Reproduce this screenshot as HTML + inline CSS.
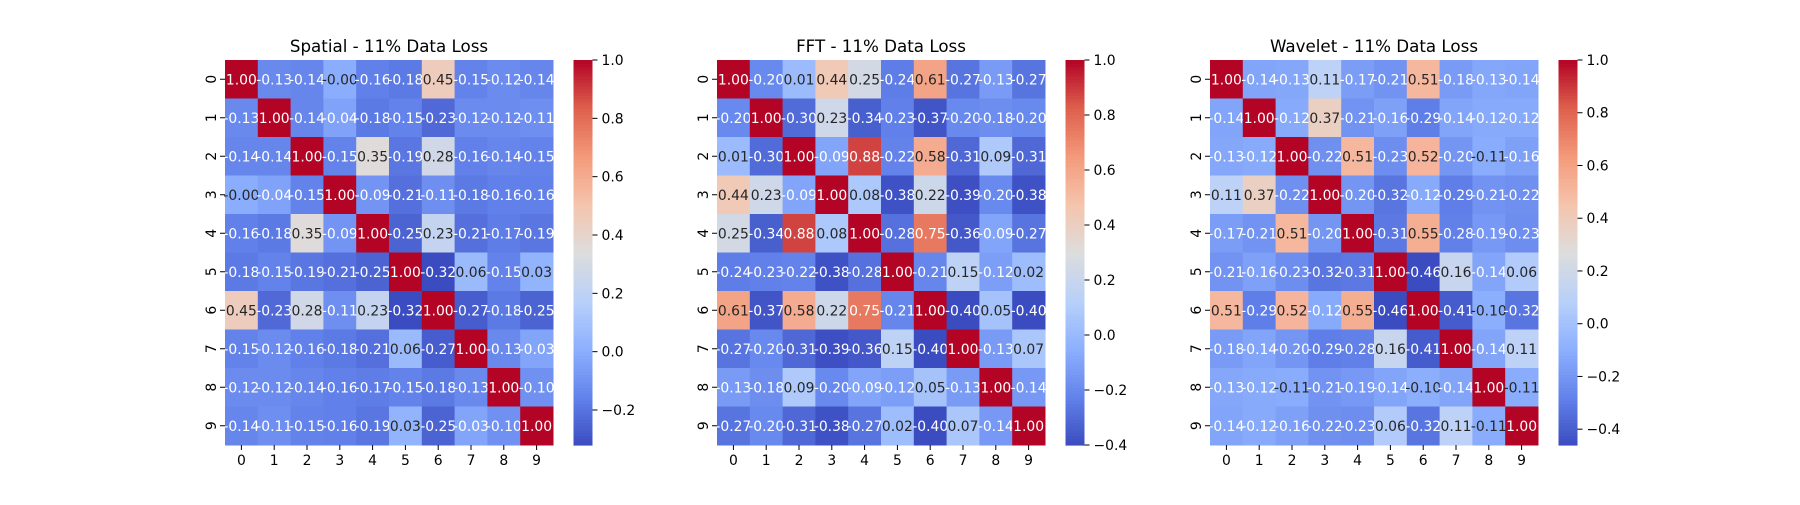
<!DOCTYPE html>
<html><head><meta charset="utf-8"><style>
body{margin:0;background:#fff;width:1800px;height:500px;overflow:hidden}
svg{font-family:"DejaVu Sans","Liberation Sans",sans-serif}
</style></head><body>
<svg id="fig" width="1800" height="500" xmlns="http://www.w3.org/2000/svg"></svg>
<script>
const labels = ['0','1','2','3','4','5','6','7','8','9'];
const titles = ['Spatial - 11% Data Loss','FFT - 11% Data Loss','Wavelet - 11% Data Loss'];
const spatial = [
[1.00,-0.13,-0.14,-0.00,-0.16,-0.18,0.45,-0.15,-0.12,-0.14],
[-0.13,1.00,-0.14,-0.04,-0.18,-0.15,-0.23,-0.12,-0.12,-0.11],
[-0.14,-0.14,1.00,-0.15,0.35,-0.19,0.28,-0.16,-0.14,-0.15],
[-0.00,-0.04,-0.15,1.00,-0.09,-0.21,-0.11,-0.18,-0.16,-0.16],
[-0.16,-0.18,0.35,-0.09,1.00,-0.25,0.23,-0.21,-0.17,-0.19],
[-0.18,-0.15,-0.19,-0.21,-0.25,1.00,-0.32,0.06,-0.15,0.03],
[0.45,-0.23,0.28,-0.11,0.23,-0.32,1.00,-0.27,-0.18,-0.25],
[-0.15,-0.12,-0.16,-0.18,-0.21,0.06,-0.27,1.00,-0.13,-0.03],
[-0.12,-0.12,-0.14,-0.16,-0.17,-0.15,-0.18,-0.13,1.00,-0.10],
[-0.14,-0.11,-0.15,-0.16,-0.19,0.03,-0.25,-0.03,-0.10,1.00]];
const fft = [
[1.00,-0.20,0.01,0.44,0.25,-0.24,0.61,-0.27,-0.13,-0.27],
[-0.20,1.00,-0.30,0.23,-0.34,-0.23,-0.37,-0.20,-0.18,-0.20],
[0.01,-0.30,1.00,-0.09,0.88,-0.22,0.58,-0.31,0.09,-0.31],
[0.44,0.23,-0.09,1.00,0.08,-0.38,0.22,-0.39,-0.20,-0.38],
[0.25,-0.34,0.88,0.08,1.00,-0.28,0.75,-0.36,-0.09,-0.27],
[-0.24,-0.23,-0.22,-0.38,-0.28,1.00,-0.21,0.15,-0.12,0.02],
[0.61,-0.37,0.58,0.22,0.75,-0.21,1.00,-0.40,0.05,-0.40],
[-0.27,-0.20,-0.31,-0.39,-0.36,0.15,-0.40,1.00,-0.13,0.07],
[-0.13,-0.18,0.09,-0.20,-0.09,-0.12,0.05,-0.13,1.00,-0.14],
[-0.27,-0.20,-0.31,-0.38,-0.27,0.02,-0.40,0.07,-0.14,1.00]];
const wavelet = [
[1.00,-0.14,-0.13,0.11,-0.17,-0.21,0.51,-0.18,-0.13,-0.14],
[-0.14,1.00,-0.12,0.37,-0.21,-0.16,-0.29,-0.14,-0.12,-0.12],
[-0.13,-0.12,1.00,-0.22,0.51,-0.23,0.52,-0.20,-0.11,-0.16],
[0.11,0.37,-0.22,1.00,-0.20,-0.32,-0.12,-0.29,-0.21,-0.22],
[-0.17,-0.21,0.51,-0.20,1.00,-0.31,0.55,-0.28,-0.19,-0.23],
[-0.21,-0.16,-0.23,-0.32,-0.31,1.00,-0.46,0.16,-0.14,0.06],
[0.51,-0.29,0.52,-0.12,0.55,-0.46,1.00,-0.41,-0.10,-0.32],
[-0.18,-0.14,-0.20,-0.29,-0.28,0.16,-0.41,1.00,-0.14,0.11],
[-0.13,-0.12,-0.11,-0.21,-0.19,-0.14,-0.10,-0.14,1.00,-0.11],
[-0.14,-0.12,-0.16,-0.22,-0.23,0.06,-0.32,0.11,-0.11,1.00]];
const cbTicks1 = [-0.2,0.0,0.2,0.4,0.6,0.8,1.0];
const cbTicks2 = [-0.4,-0.2,0.0,0.2,0.4,0.6,0.8,1.0];
const cbTicks3 = [-0.4,-0.2,0.0,0.2,0.4,0.6,0.8,1.0];

const NS='http://www.w3.org/2000/svg';
const svg=document.getElementById('fig');
const CM=[[59,76,192],[98,130,234],[141,176,254],[184,208,249],[221,221,221],[245,196,173],[244,154,123],[222,96,77],[180,4,38]];
function cmap(t){t=Math.max(0,Math.min(1,t));const p=t*8,i=Math.min(7,Math.floor(p)),f=p-i;
 return CM[i].map((c,k)=>c+(CM[i+1][k]-c)*f);}
function rgb(c){return 'rgb('+c.map(Math.round).join(',')+')';}
function lum(c){const l=c.map(v=>{v/=255;return v<=0.03928?v/12.92:Math.pow((v+0.055)/1.055,2.4)});return 0.2126*l[0]+0.7152*l[1]+0.0722*l[2];}
function mk(tag,attrs,parent){const e=document.createElementNS(NS,tag);for(const k in attrs)e.setAttribute(k,attrs[k]);(parent||svg).appendChild(e);return e;}
function fmt(v){return ((v<0||Object.is(v,-0))?'-':'')+Math.abs(v).toFixed(2);}

const panels=[{d:spatial,x0:225,ticks:cbTicks1},{d:fft,x0:717,ticks:cbTicks2},{d:wavelet,x0:1210,ticks:cbTicks3}];
const Y0=60,W=328,H=385,N=labels.length,CW=W/N,CH=H/N;
panels.forEach((p,pi)=>{
 const g=mk('g',{});
 
 
 const flat=p.d.flat();const vmin=Math.min(...flat),vmax=Math.max(...flat);
 const xs=c=>p.x0+c*CW, ys=r=>Y0+r*CH;
 p.d.forEach((row,r)=>row.forEach((v,c)=>{
  const col=cmap((v-vmin)/(vmax-vmin));
  const rc=mk('rect',{x:xs(c),y:ys(r),width:CW+0.5,height:CH+0.5,fill:rgb(col)},g);
  
  
  const t=mk('text',{x:xs(c)+CW/2,y:ys(r)+CH/2+5,'text-anchor':'middle','font-size':'13.9',fill:lum(col)>0.408?'#262626':'#ffffff'},g);
  t.textContent=fmt(v);
  
  
 }));
 const tt=mk('text',{x:p.x0+W/2,y:52,'text-anchor':'middle','font-size':'16.7',fill:'#000'},g);
 tt.textContent=titles[pi];
 
 
 labels.forEach((l,i)=>{
  const cx=xs(i)+CW/2;
  mk('line',{x1:cx,y1:Y0+H,x2:cx,y2:Y0+H+5,stroke:'#000','stroke-width':1},g);
  const xt=mk('text',{x:cx,y:Y0+H+20,'text-anchor':'middle','font-size':'13.9'},g);
  xt.textContent=l;
  
  
  const cy=ys(i)+CH/2;
  mk('line',{x1:p.x0-5,y1:cy,x2:p.x0,y2:cy,stroke:'#000','stroke-width':1},g);
  const yt=mk('text',{x:0,y:0,'text-anchor':'middle','font-size':'13.9',transform:'translate('+(p.x0-9)+','+cy+') rotate(-90)'},g);
  yt.textContent=l;
  
  
 });
 const cbx=p.x0+348.5,cbw=19;
 const cb=mk('g',{},g);
 
 
 const steps=120;
 for(let k=0;k<steps;k++){
  mk('rect',{x:cbx,y:Y0+H-(k+1)*H/steps,width:cbw,height:H/steps+0.6,fill:rgb(cmap((k+0.5)/steps))},cb);
 }
 const cy=v=>Y0+H-(v-vmin)/(vmax-vmin)*H;
 p.ticks.forEach(v=>{
  const y=cy(v);
  mk('line',{x1:cbx+cbw,y1:y,x2:cbx+cbw+5,y2:y,stroke:'#000','stroke-width':1},cb);
  const t=mk('text',{x:cbx+cbw+9,y:y+5,'font-size':'13.9'},cb);
  t.textContent=(v<0?'\u2212':'')+Math.abs(v).toFixed(1);
  
  
 });
});
</script>
</body></html>
